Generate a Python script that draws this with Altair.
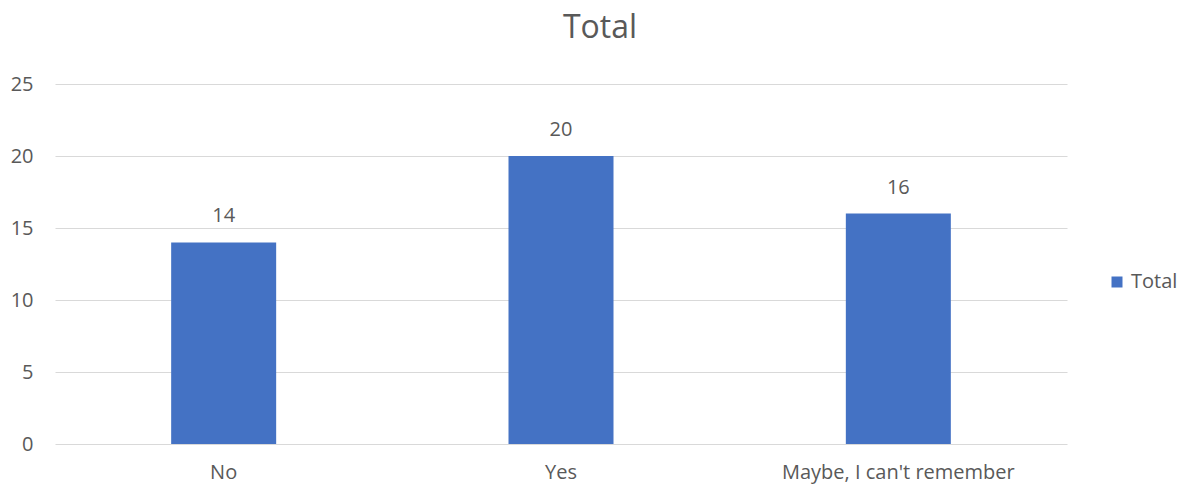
import altair as alt
import pandas as pd

categories = ["No", "Yes", "Maybe, I can't remember"]
values = [14, 20, 16]
series = ["Total", "Total", "Total"]

df = pd.DataFrame({"cat": categories, "val": values, "series": series})

FONT = "Open Sans"
TXT = "#595959"
FS = 20

x_enc = alt.X("cat:N", sort=categories, title=None,
              scale=alt.Scale(paddingInner=0, paddingOuter=0),
              axis=alt.Axis(labelAngle=0, labelFontSize=FS, labelColor=TXT, labelFont=FONT,
                            ticks=False, domain=False, labelPadding=18,
                            labelLimit=0, grid=False))

y_enc = alt.Y("val:Q", title=None,
              scale=alt.Scale(domain=[0, 25], nice=False),
              axis=alt.Axis(values=[0, 5, 10, 15, 20, 25], labelFontSize=FS, labelColor=TXT,
                            labelFont=FONT, ticks=False, domain=False, labelPadding=22,
                            gridColor="#d9d9d9", gridWidth=1))

bars = alt.Chart(df).mark_bar(size=105, color="#4472C4").encode(
    x=x_enc,
    y=y_enc,
    color=alt.Color("series:N", title=None,
                    scale=alt.Scale(domain=["Total"], range=["#4472C4"]),
                    legend=alt.Legend(orient="none", legendX=1052, legendY=188,
                                      symbolType="square", symbolSize=121,
                                      labelFontSize=FS, labelColor=TXT, labelFont=FONT,
                                      symbolStrokeWidth=0)),
)

labels = alt.Chart(df).mark_text(dy=-26, fontSize=FS, color=TXT, font=FONT).encode(
    x=x_enc, y=y_enc, text="val:Q"
)

chart = alt.layer(bars, labels).properties(
    width=1012, height=360,
    background="white",
    title=alt.TitleParams("Total", fontSize=32, font=FONT, color=TXT, fontWeight="normal",
                          anchor="middle", offset=29, dx=39),
    autosize=alt.AutoSizeParams(type="none"),
    padding={"left": 47, "top": 76, "right": 114, "bottom": 40},
).configure_view(stroke=None)

chart.save("out.html", embed_options={"renderer": "svg", "actions": False})
